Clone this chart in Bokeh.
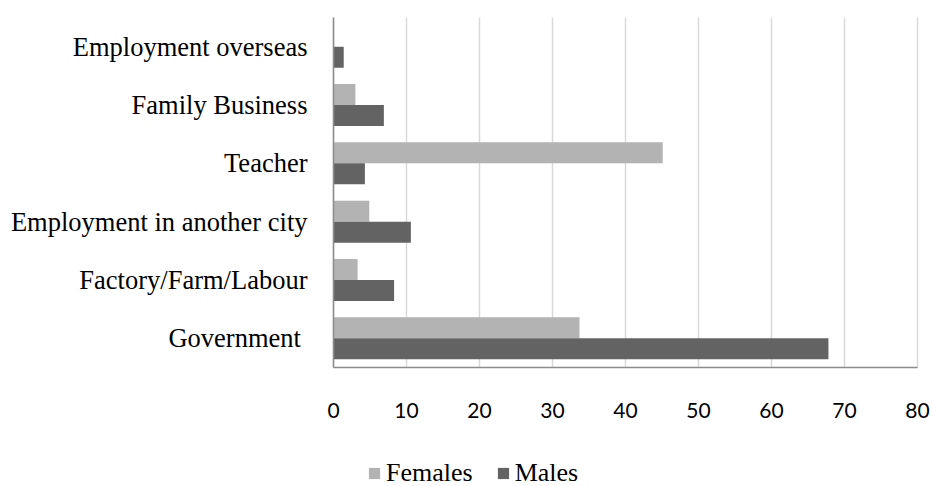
from bokeh.plotting import figure
from bokeh.models import Range1d, FixedTicker, Legend, LegendItem, ColumnDataSource, Grid
from bokeh.embed import file_html
from bokeh.resources import INLINE

# categories listed bottom -> top
categories = ["Government ", "Factory/Farm/Labour", "Employment in another city",
              "Teacher", "Family Business", "Employment overseas"]
females = [33.7, 3.3, 4.9, 45.1, 3.0, 0.0]
males = [67.8, 8.3, 10.6, 4.3, 6.9, 1.4]
x_ticks = [0, 10, 20, 30, 40, 50, 60, 70, 80]

n = len(categories)
y_pos = [i + 0.5 for i in range(n)]
bar_h = 0.36
src = ColumnDataSource(dict(cat=categories, f=females, m=males,
                            yf=[y + bar_h / 2 for y in y_pos],
                            ym=[y - bar_h / 2 for y in y_pos]))

# geometry (pixels): plot area x 333..917, y 17..367 in a 933x486 canvas
x_max = x_ticks[-1]
ux = 584 / x_max
uy = 350 / n
p = figure(width=933, height=486,
           x_range=Range1d(-333 / ux, x_max + 16 / ux),
           y_range=Range1d(-119 / uy, n + 17 / uy),
           output_backend="svg", toolbar_location=None,
           min_border_left=0, min_border_right=0, min_border_top=0, min_border_bottom=0)

rf = p.hbar(y='yf', right='f', left=0, height=bar_h, source=src,
            fill_color="#b3b3b3", line_color=None)
rm = p.hbar(y='ym', right='m', left=0, height=bar_h, source=src,
            fill_color="#636363", line_color=None)

p.outline_line_color = None
p.ygrid.grid_line_color = None
p.xgrid.grid_line_color = "#d9d9d9"
p.xgrid.grid_line_width = 1.5
if "cross_bounds" in Grid.properties():
    p.xgrid.cross_bounds = (0, n)

p.xaxis.ticker = FixedTicker(ticks=x_ticks)
p.xaxis.fixed_location = 0
p.xaxis.bounds = (0, x_max)

p.yaxis.ticker = FixedTicker(ticks=y_pos)
p.yaxis.major_label_overrides = {y: c for y, c in zip(y_pos, categories)}
p.yaxis.fixed_location = 0
p.yaxis.bounds = (0, n)

for ax in (p.xaxis[0], p.yaxis[0]):
    ax.axis_line_color = "#8c8c8c"
    ax.axis_line_width = 1.5
    ax.major_tick_line_color = None
    ax.minor_tick_line_color = None
    ax.major_tick_out = 0
    ax.major_tick_in = 0

p.yaxis.major_label_text_font = "Liberation Serif"
p.yaxis.major_label_text_font_size = "26.5px"
p.yaxis.major_label_text_color = "#000000"
p.yaxis.major_label_standoff = 26

p.xaxis.major_label_text_font = "Lato"
p.xaxis.major_label_text_font_size = "21px"
p.xaxis.major_label_text_color = "#000000"
p.xaxis.major_label_standoff = 35

legend = Legend(items=[LegendItem(label="Females", renderers=[rf]),
                       LegendItem(label="Males", renderers=[rm])],
                orientation="horizontal", location=(367, -2))
legend.glyph_width = 14
legend.glyph_height = 14
legend.label_standoff = 5
legend.spacing = 23
legend.padding = 0
legend.margin = 0
legend.border_line_color = None
legend.background_fill_alpha = 0
legend.label_text_font = "serif"
legend.label_text_font_size = "26px"
legend.label_text_color = "#000000"
p.add_layout(legend, "center")

open("out.html", "w").write(file_html(p, INLINE))
